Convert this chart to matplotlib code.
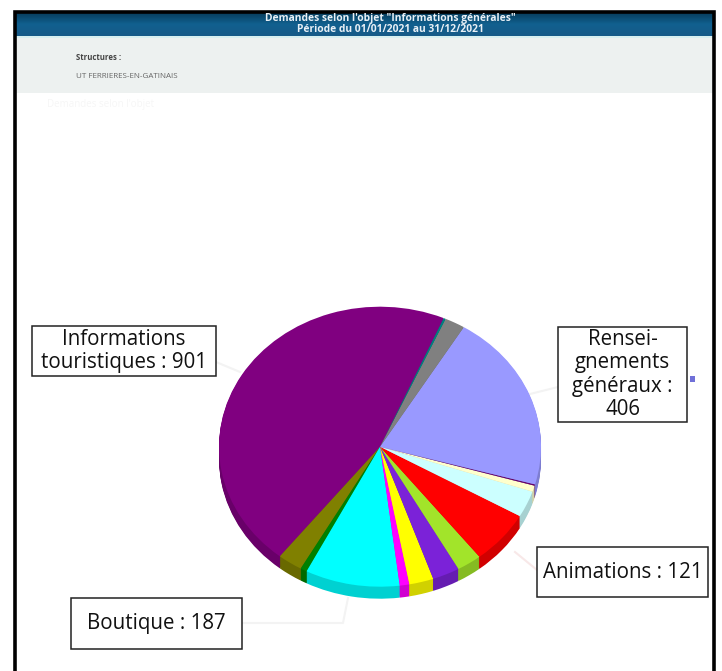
import numpy as np
from matplotlib import pyplot as plt
from matplotlib.colors import LinearSegmentedColormap, to_rgb
from matplotlib.patches import Rectangle

plt.rcParams['font.family'] = ['Open Sans', 'DejaVu Sans']

# slices, counter clockwise from the top right of the purple one
slice_values = [901, 49, 13, 187, 19, 48, 54, 49, 121, 60, 14, 3, 406, 40, 4]
slice_colors = ['#800080', '#808000', '#008000', '#00ffff', '#ff00ff', '#ffff00',
                '#7b22d8', '#a2e42a', '#ff0000', '#ccffff', '#ffffcc', '#660066',
                '#9999ff', '#808080', '#008080']
start_angle = 66.7

title_lines = ['Demandes selon l\'objet "Informations générales"',
               'Période du 01/01/2021 au 31/12/2021']
structure_label = 'Structures :'
structure_name = 'UT FERRIERES-EN-GATINAIS'

W, H = 722, 671
fig = plt.figure(figsize=(W/100, H/100), dpi=100)

# background axes works in image pixels
bg = fig.add_axes([0, 0, 1, 1])
bg.axis('off')

# header band
header = LinearSegmentedColormap.from_list('header', ['#063a58', '#11608f', '#175a88'])
bg.imshow(np.linspace(0, 1, 50).reshape(-1, 1), cmap=header, aspect='auto',
          extent=(14, 714, 36, 12), zorder=1)
bg.add_patch(Rectangle((14, 36), 700, 2, color='#d8eff0', lw=0, zorder=1))
bg.add_patch(Rectangle((14, 38), 700, 55, color='#edf1f0', lw=0, zorder=1))
bg.set_xlim(0, W)
bg.set_ylim(H, 0)

# black page border, open at the bottom
bg.plot([14.5, 14.5, 713.5, 713.5], [H, 11.5, 11.5, H], color='black', lw=2.6,
        solid_joinstyle='miter', zorder=2)

bg.text(390, 18, title_lines[0], color='#e8f0f6', fontsize=7.4, fontweight='bold',
        ha='center', va='center', zorder=3)
bg.text(390, 29, title_lines[1], color='#e8f0f6', fontsize=7.4, fontweight='bold',
        ha='center', va='center', zorder=3)
bg.text(76, 57, structure_label, color='#444444', fontsize=5.6, fontweight='bold',
        va='center', zorder=3)
bg.text(76, 77, structure_name, color='#666666', fontsize=5.8, va='center', zorder=3)
bg.text(47, 104, 'Demandes selon l\'objet', color='#f6f6f6', fontsize=7, va='center', zorder=3)

# very faint leader lines
leader_color = '#f3f3f3'
bg.plot([216, 240], [362, 372], color=leader_color, lw=1.5, zorder=1)
bg.plot([530, 558], [394, 387], color=leader_color, lw=1.5, zorder=1)
bg.plot([515, 537], [552, 570], color='#f8e8e8', lw=1.5, zorder=1)
bg.plot([242, 343, 348], [623, 623, 598], color=leader_color, lw=1.5, zorder=1)

# small blue marker beside the label
bg.add_patch(Rectangle((690, 376), 5, 6, color='#7070d8', lw=0, zorder=1))

# pie goes in its own axes, stretched to the ellipse of the picture
cx, cy, rx, ry = 380, 446.7, 161, 140
depth = 12
pie_ax = fig.add_axes([(cx-rx)/W, 1-(cy+ry+depth)/H, 2*rx/W, (2*ry+depth)/H])
pie_ax.patch.set_alpha(0)

side_colors = [tuple(c*0.82 for c in to_rgb(col)) for col in slice_colors]
for d in np.arange(depth, 0, -1):
    pie_ax.pie(slice_values, colors=side_colors, startangle=start_angle,
               center=(0, -d/ry), radius=1, wedgeprops={'linewidth': 0})
pie_ax.pie(slice_values, colors=slice_colors, startangle=start_angle,
           radius=1, wedgeprops={'linewidth': 0})
pie_ax.set_aspect('auto')
pie_ax.set_xlim(-1, 1)
pie_ax.set_ylim(-1-depth/ry, 1)

# label boxes
overlay = fig.add_axes([0, 0, 1, 1])
overlay.axis('off')
overlay.set_xlim(0, W)
overlay.set_ylim(H, 0)

boxes = [
    ((32, 326, 184, 50), 'Informations\ntouristiques : 901'),
    ((558, 327, 129, 95), 'Rensei-\ngnements\ngénéraux :\n406'),
    ((537, 547, 171, 50), 'Animations : 121'),
    ((71, 598, 171, 51), 'Boutique : 187'),
]
for (x, y, w, h), label in boxes:
    overlay.add_patch(Rectangle((x, y), w, h, facecolor='white', edgecolor='#222222', lw=1.1))
    overlay.text(x+w/2, y+h/2, label, fontsize=14.8, color='#111111', ha='center',
                 va='center', linespacing=1.16)

fig.savefig('out.png', dpi=100, facecolor='white')
